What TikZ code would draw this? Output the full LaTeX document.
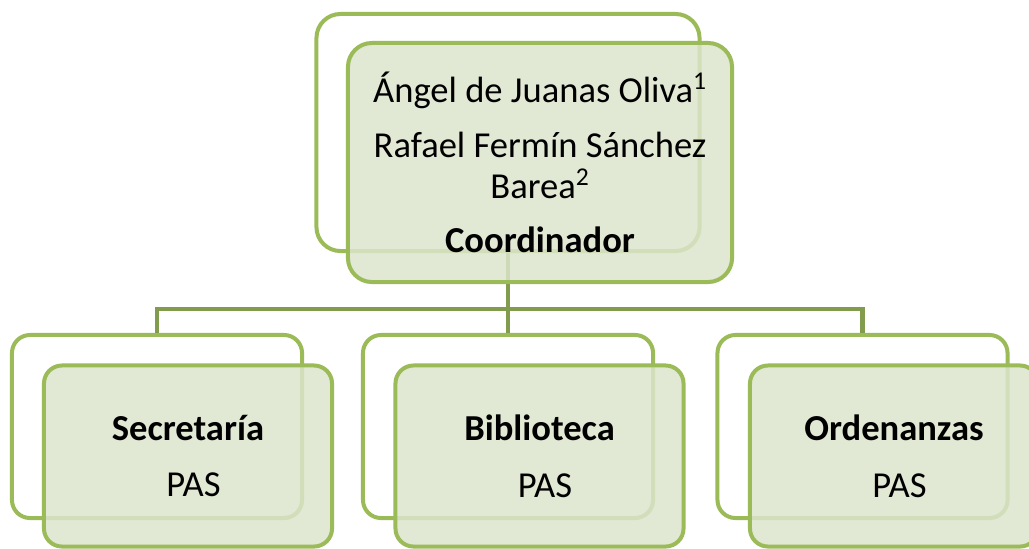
\documentclass[tikz,border=0pt]{standalone}
\usepackage{fontspec}
\setmainfont{Carlito}
\definecolor{olivegreen}{HTML}{9BBB59}
\definecolor{linkgreen}{HTML}{809C4C}
\definecolor{frontfill}{HTML}{DCE4CC}
\tikzset{backbox/.style={draw=olivegreen, line width=1mm, fill=white, inner sep=0pt, rounded corners=0.45cm, minimum width=7.25cm, minimum height=4.575cm}}
\tikzset{frontbox/.style={backbox, fill=frontfill, fill opacity=0.85, text opacity=1, minimum width=7.2cm, minimum height=4.525cm, align=center, font=\fontsize{26}{29}\selectfont}}
\tikzset{headback/.style={backbox, rounded corners=0.6cm, minimum width=9.575cm, minimum height=5.925cm}}
\tikzset{headfront/.style={frontbox, rounded corners=0.6cm, minimum width=9.6cm, minimum height=5.975cm}}
\tikzset{link/.style={draw=linkgreen, line width=1.15mm}}
\begin{document}
\begin{tikzpicture}[x=0.025cm, y=-0.025cm]
    \useasboundingbox (0,0) rectangle (1029,548);
    \clip (0,0) rectangle (1029,548);
    % back cards
    \node[headback] (headBack) at (508,132.5) {};
    \node[backbox] (secBack) at (157,426.5) {};
    \node[backbox] (libBack) at (508,426.5) {};
    \node[backbox] (ordBack) at (862.5,426.5) {};
    % links
    \coordinate (bar) at (508,309);
    \draw[link] (headBack.south) -- (bar) -| (secBack.north);
    \draw[link] (headBack.south) -- (libBack.north);
    \draw[link] (bar) -| (ordBack.north);
    % front cards
    \node[headfront] (head) at (540,162.5) {Ángel de Juanas Oliva\textsuperscript{1}\\[0.35cm]
        Rafael Fermín Sánchez\\Barea\textsuperscript{2}\\[0.35cm]\textbf{Coordinador}};
    \node[frontbox] (sec) at (188,456) {\textbf{Secretaría}\\[0.4cm]\hspace*{0.3em}PAS};
    \node[frontbox] (lib) at (539.5,456) {\textbf{Biblioteca}\\[0.4cm]\hspace*{0.3em}PAS};
    \node[frontbox] (ord) at (894,456) {\textbf{Ordenanzas}\\[0.4cm]\hspace*{0.3em}PAS};
\end{tikzpicture}
\end{document}
